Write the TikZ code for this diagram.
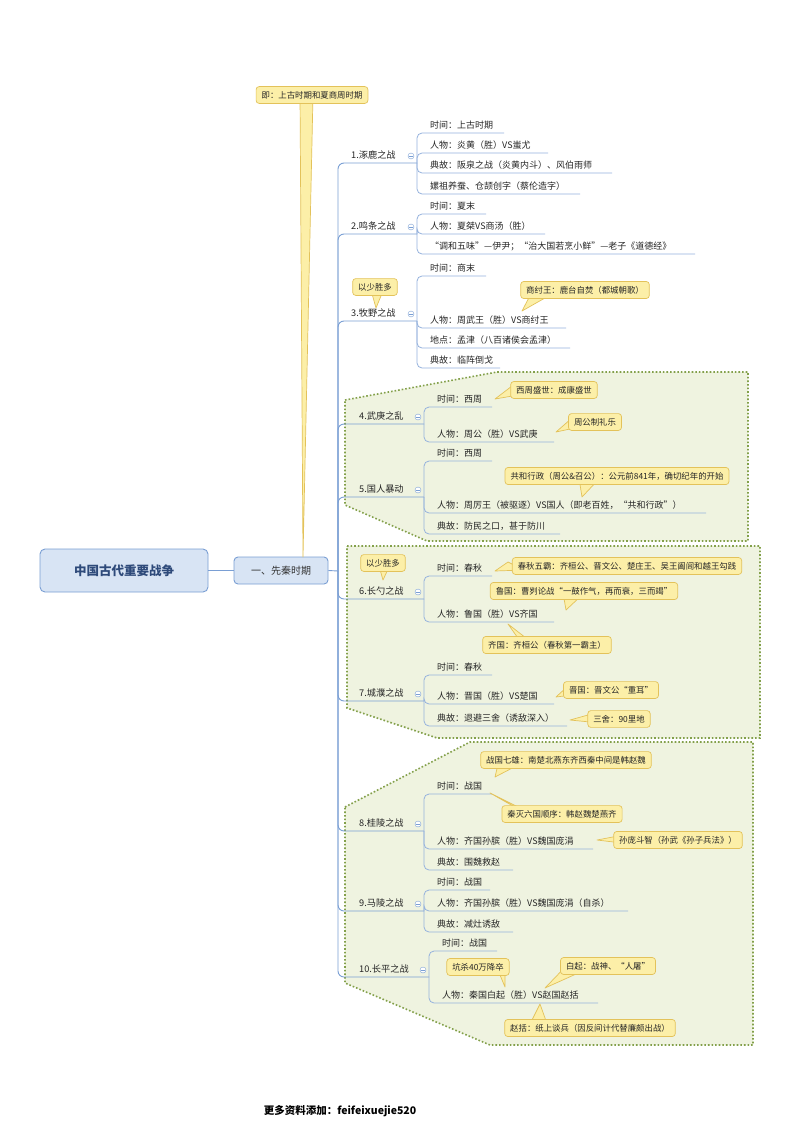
\documentclass[tikz,border=0pt]{standalone}
\usepackage{fontspec}
\setmainfont{Noto Sans CJK SC}
\begin{document}
\begin{tikzpicture}[x=1pt,y=-1pt,
  main/.style={draw=lineblue,line width=0.9pt},
  sub/.style={draw=lineblue!80,line width=0.8pt},
  leaf/.style={anchor=west,inner sep=1pt,font=\fontsize{9}{10}\selectfont,text=black!85},
  blabel/.style={anchor=west,inner sep=1pt,font=\fontsize{9.2}{10}\selectfont,text=black!85},
  callout/.style={draw=calloutline,fill=calloutfill,rounded corners=3pt,line width=0.7pt,inner xsep=5.5pt,inner ysep=4.5pt,font=\fontsize{8.4}{9}\selectfont,text=black!85},
  ptr/.style={draw=calloutline,fill=calloutfill,line width=0.7pt,line join=round},
  grp/.style={draw=grpline,fill=grpfill,dotted,line width=1.6pt},
  tog/.style={draw=lineblue,fill=white,circle,inner sep=0pt,minimum size=6pt}]
\definecolor{lineblue}{HTML}{7A9FD4}
\definecolor{calloutfill}{HTML}{FCEFA8}
\definecolor{calloutline}{HTML}{E3C25A}
\definecolor{grpfill}{HTML}{EFF3E0}
\definecolor{grpline}{HTML}{83A04A}
\definecolor{rootfill}{HTML}{D8E4F4}
\definecolor{roottext}{HTML}{2E4A7A}
\useasboundingbox[fill=white] (0,0) rectangle (800,1132);
% groups
\draw[grp] (345,400) -- (497,372) -- (748,372) -- (748,541) -- (427,541) -- (345,505) -- cycle;
\draw[grp] (347,546) -- (760,546) -- (760,738) -- (437,738) -- (347,708) -- cycle;
\draw[grp] (345,807) -- (470,742) -- (753,742) -- (753,1045) -- (490,1045) -- (345,983) -- cycle;
% macros
\newcommand\mmbattle[5]{% name, y, subx, text, labelx
  \draw[main,rounded corners=6] (338,571) -- (338,#2+8) -- (#3,#2+8);
  \node[blabel] (#1) at (#5,#2) {#4};
  \node[tog] (#1t) at (#3-6,#2+1) {};
  \draw[lineblue,line width=0.5pt] ([xshift=-1.8pt]#1t.center) -- ([xshift=1.8pt]#1t.center);}
\newcommand\mmleaf[6]{% name, subx, parent underline y, text y, end x, text
  \draw[sub,rounded corners=5] (#2,#3) -- (#2,#4+8) -- (#5,#4+8);
  \node[leaf] (#1) at (#2+12,#4) {#6};}
\newcommand\mmcallout[7]{% name, cx, cy, b1x, b2x, tip, text
  \coordinate (#1tip) at #6;
  \path[ptr] (#4,#3-4) -- (#1tip) -- (#5,#3+4) -- cycle;
  \node[callout] (#1) at (#2,#3) {#7};}
% root
\node[draw=lineblue,fill=rootfill,rounded corners=5pt,line width=0.9pt,minimum width=168pt,minimum height=43pt,font=\bfseries\fontsize{12.5}{14}\selectfont,text=roottext] (root) at (124,570.5) {中国古代重要战争};
\node[draw=lineblue,fill=rootfill,rounded corners=4pt,line width=0.9pt,minimum width=94pt,minimum height=27pt,font=\fontsize{10}{12}\selectfont,text=black!80] (l1) at (281,570.5) {一、先秦时期};
\draw[main] (root.east) -- (l1.west);
% header callout
\coordinate (hdrtip) at (303,557);
\path[ptr] (300,95) -- (hdrtip) -- (313,95) -- cycle;
\node[callout] (hdr) at (312,95) {即：上古时期和夏商周时期};
\draw[main] (l1.east) -- (338,571);
% battle 1
\mmbattle{b1}{155}{417}{1.涿鹿之战}{350}
\mmleaf{b1a}{417}{163}{125}{504}{时间：上古时期}
\mmleaf{b1b}{417}{163}{145}{548}{人物：炎黄（胜）VS蚩尤}
\mmleaf{b1c}{417}{163}{165}{612}{典故：阪泉之战（炎黄内斗）、风伯雨师}
\mmleaf{b1d}{417}{163}{186}{580}{嫘祖养蚕、仓颉创字（蔡伦造字）}
% battle 2
\mmbattle{b2}{226}{417}{2.鸣条之战}{350}
\mmleaf{b2a}{417}{234}{206}{486}{时间：夏末}
\mmleaf{b2b}{417}{234}{226}{545}{人物：夏桀VS商汤（胜）}
\mmleaf{b2c}{417}{234}{246}{695}{“调和五味”—伊尹；“治大国若烹小鲜”—老子《道德经》}
% battle 3
\mmbattle{b3}{313}{417}{3.牧野之战}{350}
\mmleaf{b3a}{417}{321}{268}{486}{时间：商末}
\mmleaf{b3b}{417}{321}{320}{566}{人物：周武王（胜）VS商纣王}
\mmleaf{b3c}{417}{321}{340}{570}{地点：孟津（八百诸侯会孟津）}
\mmleaf{b3d}{417}{321}{360}{500}{典故：临阵倒戈}
\mmcallout{c3a}{375}{287}{369}{383}{(376,308)}{以少胜多}
\mmcallout{c3b}{585}{290}{535}{552}{(522,311)}{商纣王：鹿台自焚（都城朝歌）}
% battle 4
\mmbattle{b4}{416}{424}{4.武庚之乱}{358}
\mmleaf{b4a}{424}{424}{399}{492}{时间：西周}
\mmleaf{b4b}{424}{424}{434}{554}{人物：周公（胜）VS武庚}
\mmcallout{c4a}{554}{390}{512}{524}{(495,399)}{西周盛世：成康盛世}
\mmcallout{c4b}{595}{422}{572}{584}{(556,432)}{周公制礼乐}
% battle 5
\mmbattle{b5}{489}{424}{5.国人暴动}{358}
\mmleaf{b5a}{424}{497}{453}{492}{时间：西周}
\mmleaf{b5b}{424}{497}{505}{706}{人物：周厉王（被驱逐）VS国人（即老百姓，“共和行政”）}
\mmleaf{b5c}{424}{497}{526}{560}{典故：防民之口，甚于防川}
\mmcallout{c5a}{617}{476}{578}{598}{(582,497)}{共和行政（周公\&召公）：公元前841年，确切纪年的开始}
% battle 6
\mmbattle{b6}{591}{424}{6.长勺之战}{358}
\mmleaf{b6a}{424}{599}{568}{492}{时间：春秋}
\mmleaf{b6b}{424}{599}{614}{554}{人物：鲁国（胜）VS齐国}
\mmcallout{c6a}{383}{563}{377}{389}{(383,580)}{以少胜多}
\mmcallout{c6b}{627}{566}{508}{524}{(495,571)}{春秋五霸：齐桓公、晋文公、楚庄王、吴王阖闾和越王勾践}
\mmcallout{c6c}{584}{591}{562}{582}{(566,610)}{鲁国：曹刿论战“一鼓作气，再而衰，三而竭”}
\mmcallout{c6d}{547}{645}{520}{540}{(508,624)}{齐国：齐桓公（春秋第一霸主）}
% battle 7
\mmbattle{b7}{693}{424}{7.城濮之战}{358}
\mmleaf{b7a}{424}{701}{667}{492}{时间：春秋}
\mmleaf{b7b}{424}{701}{696}{554}{人物：晋国（胜）VS楚国}
\mmleaf{b7c}{424}{701}{718}{567}{典故：退避三舍（诱敌深入）}
\mmcallout{c7a}{611}{690}{568}{580}{(556,697)}{晋国：晋文公“重耳”}
\mmcallout{c7b}{619}{719}{588}{600}{(570,720)}{三舍：90里地}
% battle 8
\mmbattle{b8}{823}{424}{8.桂陵之战}{358}
\mmleaf{b8a}{424}{831}{786}{492}{时间：战国}
\mmleaf{b8b}{424}{831}{841}{593}{人物：齐国孙膑（胜）VS魏国庞涓}
\mmleaf{b8c}{424}{831}{862}{513}{典故：围魏救赵}
\mmcallout{c8a}{566}{760}{500}{520}{(495,777)}{战国七雄：南楚北燕东齐西秦中间是韩赵魏}
\mmcallout{c8b}{562}{814}{520}{540}{(490,793)}{秦灭六国顺序：韩赵魏楚燕齐}
\mmcallout{c8c}{678}{840}{618}{630}{(597,840)}{孙庞斗智（孙武《孙子兵法》）}
% battle 9
\mmbattle{b9}{903}{424}{9.马陵之战}{358}
\mmleaf{b9a}{424}{911}{882}{490}{时间：战国}
\mmleaf{b9b}{424}{911}{903}{628}{人物：齐国孙膑（胜）VS魏国庞涓（自杀）}
\mmleaf{b9c}{424}{911}{924}{513}{典故：减灶诱敌}
% battle 10
\mmbattle{b10}{969}{429}{10.长平之战}{358}
\mmleaf{b10a}{429}{977}{943}{497}{时间：战国}
\mmleaf{b10b}{429}{977}{995}{598}{人物：秦国白起（胜）VS赵国赵括}
\mmcallout{c10a}{478}{967}{495}{505}{(505,987)}{坑杀40万降卒}
\mmcallout{c10b}{608}{966}{570}{585}{(545,988)}{白起：战神、“人屠”}
\mmcallout{c10c}{590}{1028}{530}{550}{(540,1004)}{赵括：纸上谈兵（因反间计代替廉颇出战）}
% footer
\node[font=\bfseries\fontsize{10.5}{12}\selectfont] (foot) at (340,1111) {更多资料添加：feifeixuejie520};
\end{tikzpicture}
\end{document}
